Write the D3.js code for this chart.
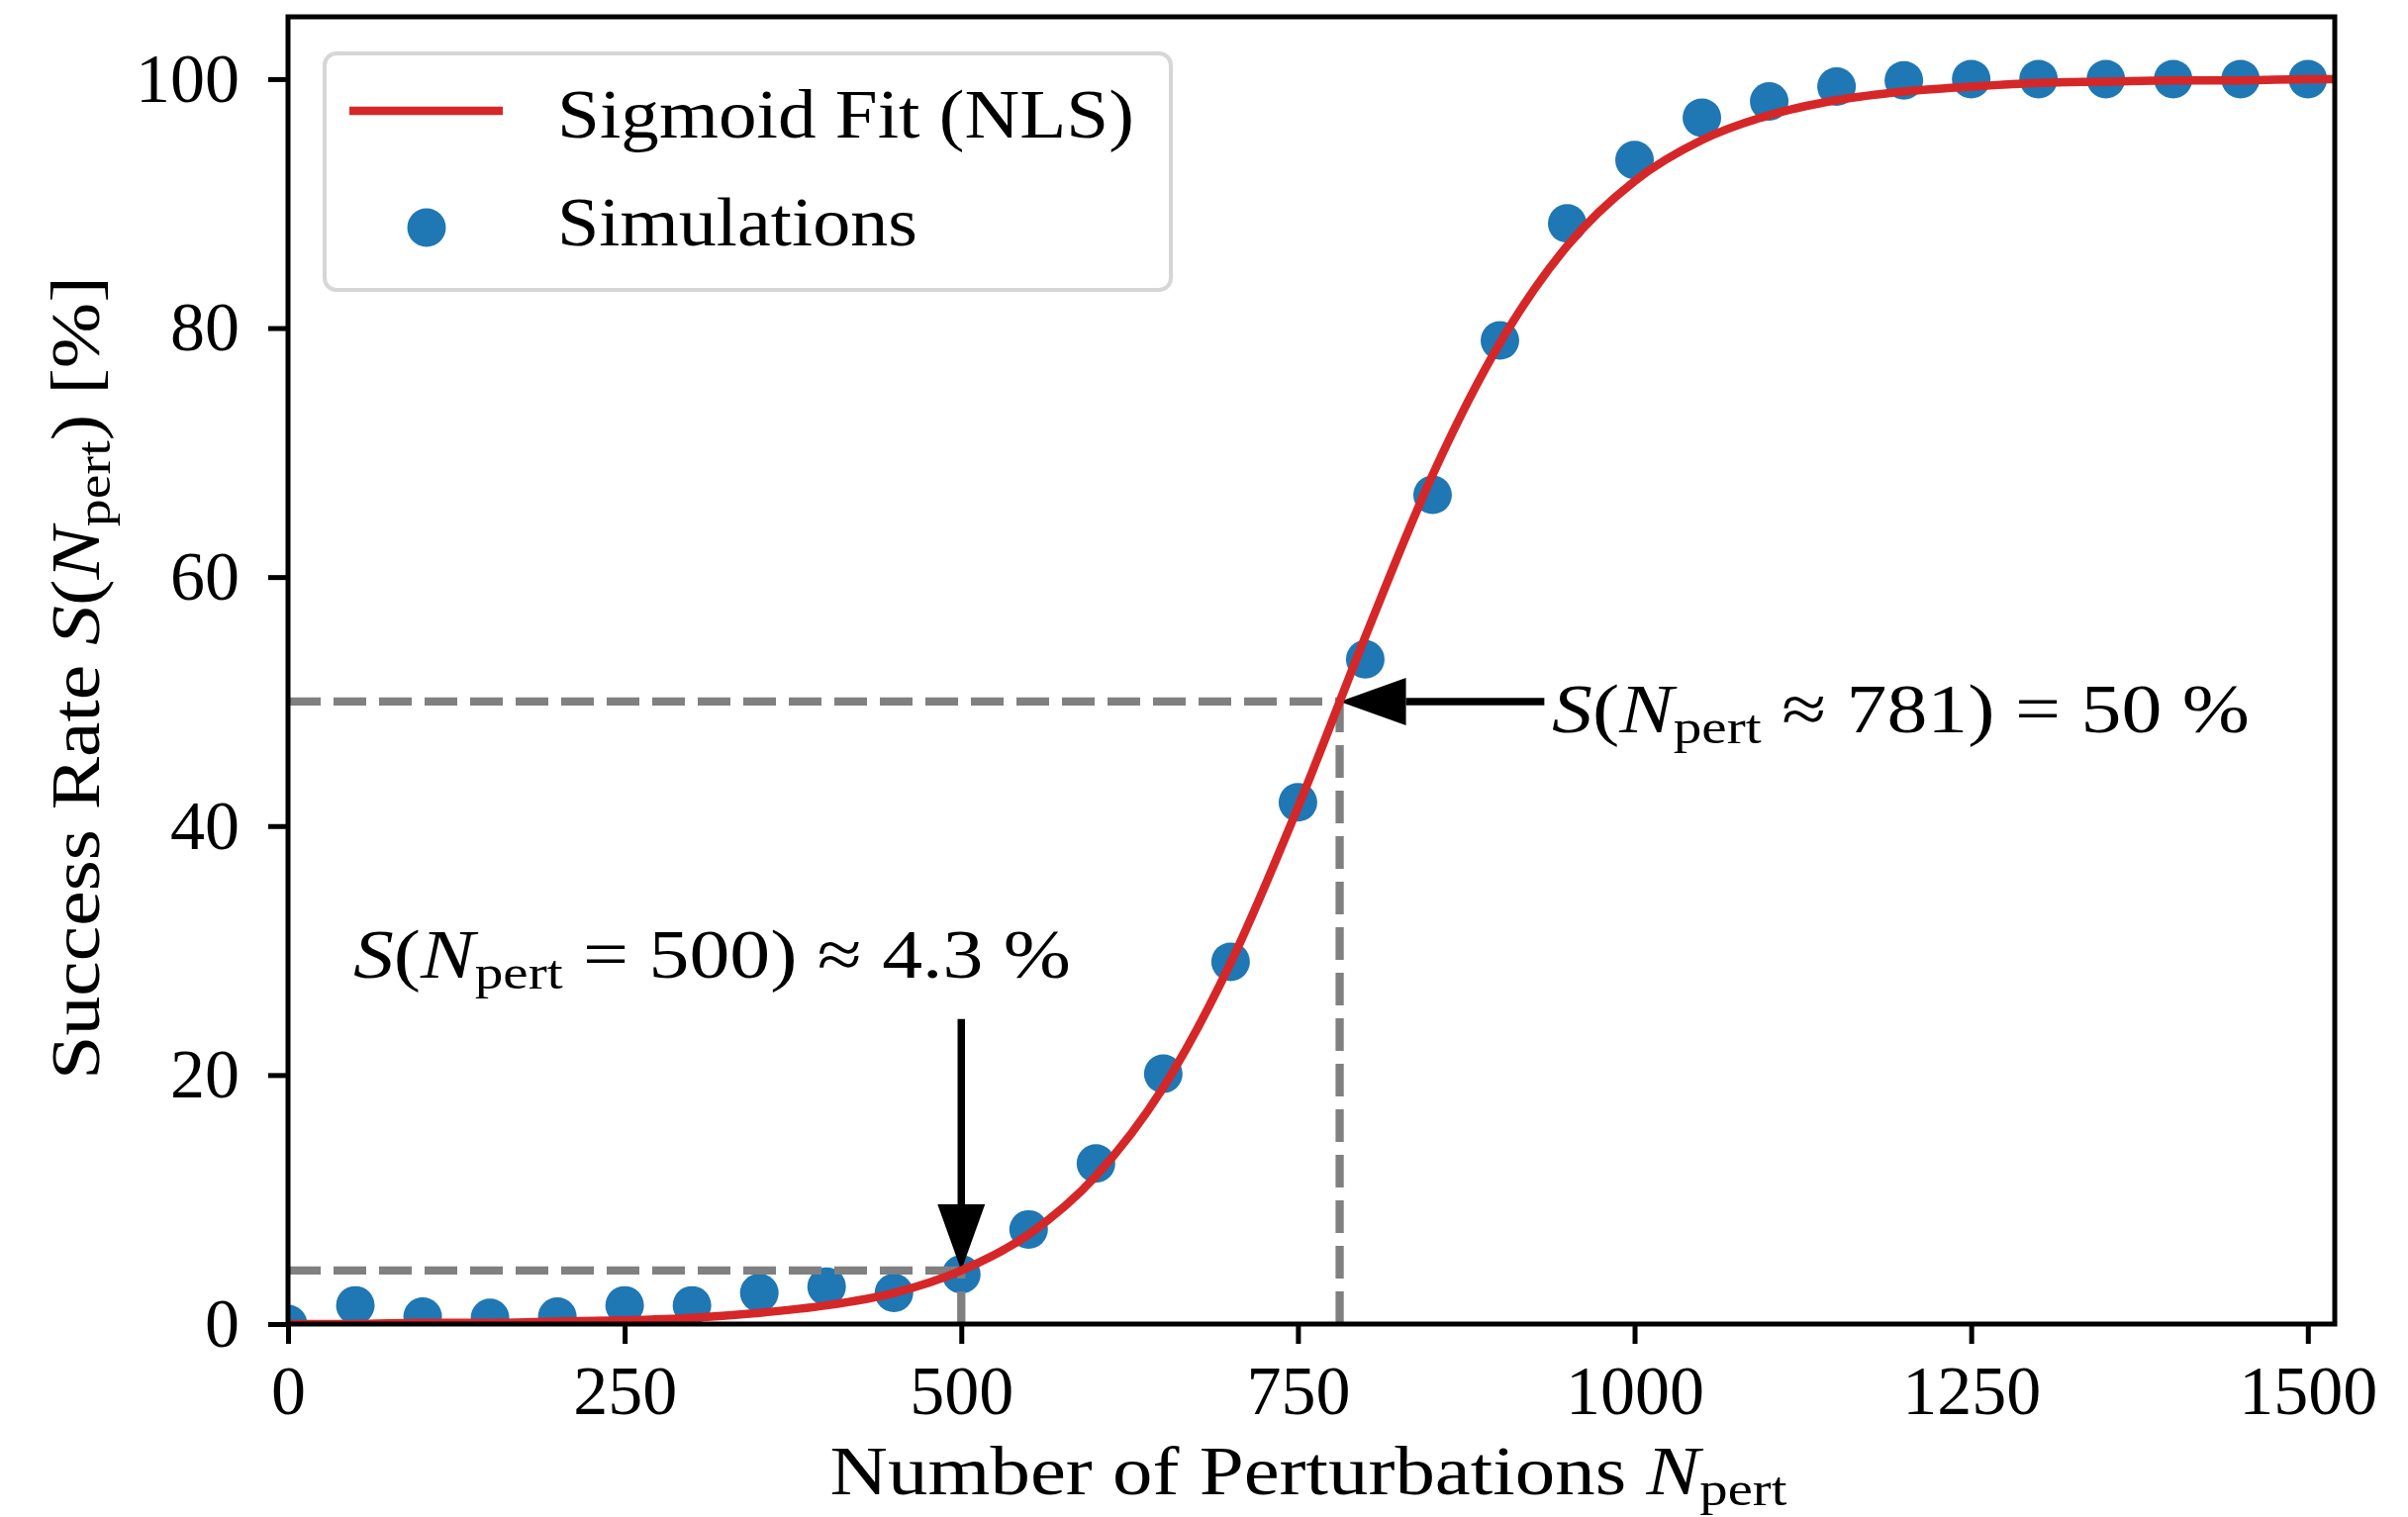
<!DOCTYPE html>
<html>
<head>
<meta charset="utf-8">
<script src="https://cdn.jsdelivr.net/npm/d3@7"></script>
<style>
  body { margin: 0; background: #fff; }
  svg { display: block; background: #fff; }
  text { font-family: "Liberation Serif", "Times New Roman", serif; fill: #000; white-space: pre; }
</style>
</head>
<body>
<svg id="chart"></svg>
<script>
// simulation results (success rate in %)
const simN = [0, 50, 100, 150, 200, 250, 300, 350, 400, 450, 500, 550, 600, 650, 700, 750,
  800, 850, 900, 950, 1000, 1050, 1100, 1150, 1200, 1250, 1300, 1350, 1400, 1450, 1500];
const simRate = [0, 1.5, 0.6, 0.5, 0.6, 1.5, 1.5, 2.5, 3.0, 2.5, 4.0, 7.6, 12.9, 20.1, 29.1, 41.9,
  53.4, 66.6, 79.0, 88.4, 93.5, 96.9, 98.2, 99.4, 99.9, 100, 100, 100, 100, 100, 100];

// sigmoid fit curve
const fitN = [0, 50, 100, 150, 200, 250, 300, 350, 400, 450, 500, 550, 600, 650, 700, 750,
  800, 850, 900, 950, 1000, 1050, 1100, 1150, 1200, 1250, 1300, 1350, 1400, 1450, 1500, 1520];
const fitRate = [0.0, 0.0, 0.1, 0.1, 0.2, 0.3, 0.5, 0.9, 1.5, 2.5, 4.3, 7.2, 11.9, 19.0, 29.0, 41.5,
  55.2, 68.2, 78.8, 86.6, 91.8, 95.1, 97.1, 98.3, 99.0, 99.4, 99.7, 99.8, 99.9, 99.9, 100, 100];

const xTicks = [0, 250, 500, 750, 1000, 1250, 1500];
const yTicks = [0, 20, 40, 60, 80, 100];

// annotated points [N, rate]
const halfPoint = [781, 50];
const lowPoint = [500, 4.3];

const W = 2433, H = 1533;
const margin = { top: 17, right: 74, bottom: 195, left: 291 };
const width = W - margin.left - margin.right;
const height = H - margin.top - margin.bottom;
const fs = 70;

const svg = d3.select('#chart').attr('width', W).attr('height', H);

const x = d3.scaleLinear().domain([0, 1520]).range([0, width]);
const y = d3.scaleLinear().domain([0, 105]).range([height, 0]);

const chart = svg.append('g').attr('transform', `translate(${margin.left},${margin.top})`);

chart.append('clipPath').attr('id', 'clip')
  .append('rect').attr('width', width).attr('height', height);

const plot = chart.append('g').attr('clip-path', 'url(#clip)');

// scatter
plot.selectAll('.dot')
  .data(simN.map((n, i) => [n, simRate[i]]))
  .join('circle')
  .attr('class', 'dot')
  .attr('cx', d => x(d[0]))
  .attr('cy', d => y(d[1]))
  .attr('r', 19.5)
  .attr('fill', '#1f77b4');

// guide lines
const guides = [
  [[0, halfPoint[1]], halfPoint],
  [[halfPoint[0], 0], halfPoint],
  [[0, lowPoint[1]], lowPoint],
  [[lowPoint[0], 0], lowPoint]
];
plot.selectAll('.guide')
  .data(guides)
  .join('line')
  .attr('class', 'guide')
  .attr('x1', d => x(d[0][0])).attr('y1', d => y(d[0][1]))
  .attr('x2', d => x(d[1][0])).attr('y2', d => y(d[1][1]))
  .attr('stroke', '#808080')
  .attr('stroke-width', 8.3)
  .attr('stroke-dasharray', '33,13');

// arrows
function arrow(x1, y1, x2, y2) {
  const dx = x2 - x1, dy = y2 - y1;
  const len = Math.hypot(dx, dy);
  const ux = dx / len, uy = dy / len;
  const headL = 67, headW = 24;
  const bx = x2 - ux * headL, by = y2 - uy * headL;
  chart.append('line')
    .attr('x1', x1).attr('y1', y1).attr('x2', bx).attr('y2', by)
    .attr('stroke', '#000').attr('stroke-width', 7.5);
  chart.append('path')
    .attr('d', `M${x2},${y2}L${bx - uy * headW},${by + ux * headW}L${bx + uy * headW},${by - ux * headW}Z`)
    .attr('fill', '#000');
}
arrow(x(lowPoint[0]), y(24.5), x(lowPoint[0]), y(lowPoint[1]));
arrow(x(933), y(halfPoint[1]), x(halfPoint[0]), y(halfPoint[1]));

// fit line
const line = d3.line().x(d => x(d[0])).y(d => y(d[1])).curve(d3.curveMonotoneX);
chart.append('g').attr('clip-path', 'url(#clip)')
  .append('path')
  .datum(fitN.map((n, i) => [n, fitRate[i]]))
  .attr('d', line)
  .attr('fill', 'none')
  .attr('stroke', '#d62728')
  .attr('stroke-width', 8.5);

// axes
const xAxis = d3.axisBottom(x).tickValues(xTicks).tickFormat(d3.format('d'))
  .tickSize(20).tickPadding(21).tickSizeOuter(0);
const yAxis = d3.axisLeft(y).tickValues(yTicks).tickFormat(d3.format('d'))
  .tickSize(20).tickPadding(29).tickSizeOuter(0);

const xAxisG = chart.append('g').attr('transform', `translate(0,${height})`).call(xAxis);
const yAxisG = chart.append('g').call(yAxis);
[xAxisG, yAxisG].forEach(g => {
  g.select('.domain').remove();
  g.selectAll('.tick line').attr('stroke', '#000').attr('stroke-width', 5);
  g.selectAll('.tick text')
    .attr('font-size', fs)
    .attr('font-family', '"Liberation Serif", "Times New Roman", serif')
    .attr('fill', '#000');
});

chart.append('rect')
  .attr('width', width).attr('height', height)
  .attr('fill', 'none').attr('stroke', '#000').attr('stroke-width', 5);

// text helpers: parts are [string, style]; style 'i' italic, 'sub' subscript
function mathText(parent, parts, anchor) {
  const t = parent.append('text').attr('font-size', fs).attr('text-anchor', anchor || 'start');
  let shifted = false;
  parts.forEach(p => {
    const s = t.append('tspan').text(p[0]);
    if (p[1] === 'i') s.attr('font-style', 'italic');
    if (p[1] === 'sub') {
      s.attr('font-size', fs * 0.7).attr('dy', 11);
      shifted = true;
    } else if (shifted) {
      s.attr('dy', -11);
      shifted = false;
    }
  });
  return t;
}
function stretch(t, target) {
  const w = t.node().getComputedTextLength();
  t.attr('transform', `scale(${target / w},1)`);
}

// annotation texts
const ann1 = svg.append('g').attr('transform', 'translate(357,988)');
stretch(mathText(ann1, [['S', 'i'], ['(', ''], ['N', 'i'], ['pert', 'sub'], [' = 500) \u2248 4.3 %', '']]), 725);

const ann2 = svg.append('g').attr('transform', 'translate(1568,740)');
stretch(mathText(ann2, [['S', 'i'], ['(', ''], ['N', 'i'], ['pert', 'sub'], [' \u2248 781) = 50 %', '']]), 705);

// axis labels
const xLab = svg.append('g').attr('transform', 'translate(1322,1510)');
stretch(mathText(xLab, [['Number of Perturbations ', ''], ['N', 'i'], ['pert', 'sub']], 'middle'), 967);

const yLab = svg.append('g').attr('transform', 'translate(100,685) rotate(-90)');
stretch(mathText(yLab, [['Success Rate ', ''], ['S', 'i'], ['(', ''], ['N', 'i'], ['pert', 'sub'], [') [%]', '']], 'middle'), 812);

// legend
const legend = chart.append('g').attr('transform', 'translate(37,37)');
legend.append('rect')
  .attr('width', 855).attr('height', 239).attr('rx', 12)
  .attr('fill', '#fff').attr('fill-opacity', 0.8)
  .attr('stroke', '#d6d6d6').attr('stroke-width', 4);
legend.append('line')
  .attr('x1', 25).attr('x2', 180).attr('y1', 58).attr('y2', 58)
  .attr('stroke', '#d62728').attr('stroke-width', 8.5);
legend.append('circle')
  .attr('cx', 103).attr('cy', 176).attr('r', 19.5).attr('fill', '#1f77b4');
const l1 = legend.append('g').attr('transform', 'translate(235,85)');
stretch(mathText(l1, [['Sigmoid Fit (NLS)', '']]), 583);
const l2 = legend.append('g').attr('transform', 'translate(235,194)');
stretch(mathText(l2, [['Simulations', '']]), 364);
</script>
</body>
</html>
